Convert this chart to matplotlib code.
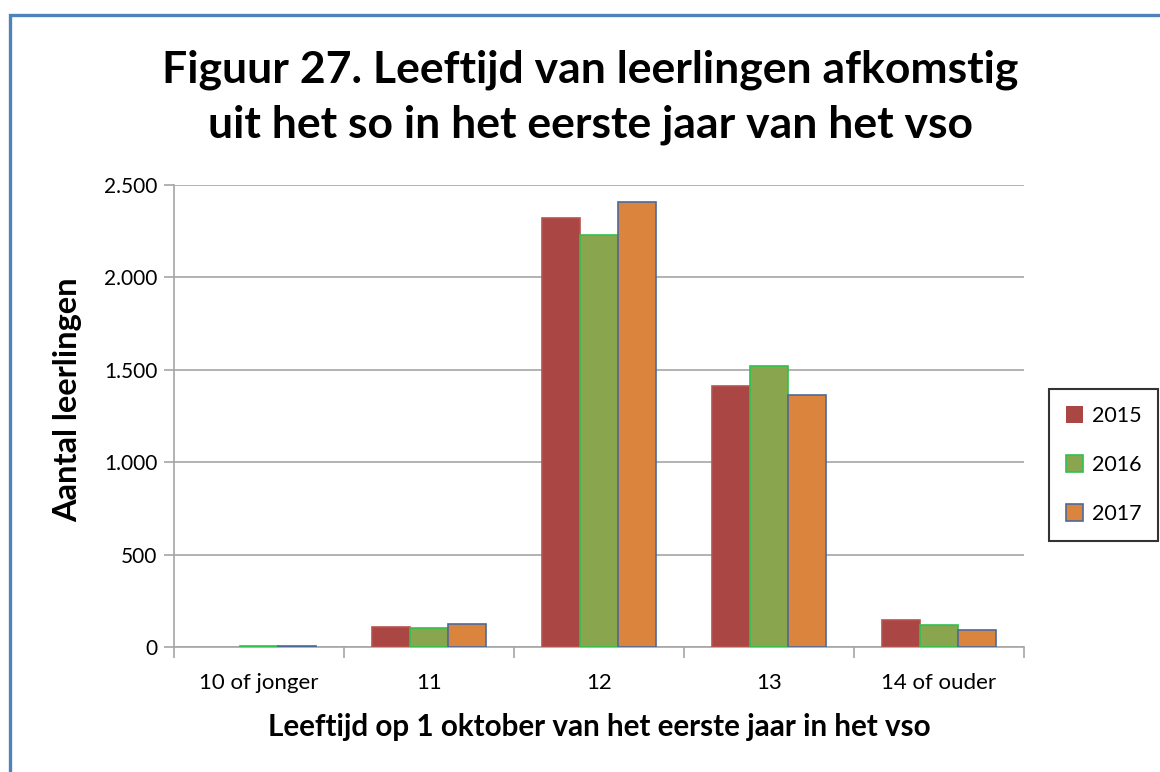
import matplotlib.pyplot as plt
from matplotlib.patches import Rectangle
import numpy as np

# data
categories = ["10 of jonger", "11", "12", "13", "14 of ouder"]
years = ["2015", "2016", "2017"]
v2015 = [0, 108, 2321, 1412, 146]
v2016 = [5, 103, 2229, 1520, 119]
v2017 = [5, 124, 2408, 1364, 92]
yticks = [0, 500, 1000, 1500, 2000, 2500]
ytick_labels = ["0", "500", "1.000", "1.500", "2.000", "2.500"]

face_colors = ["#aa4643", "#89a54e", "#db843d"]
edge_colors = ["#b85450", "#2fc24f", "#4a6a9a"]

plt.rcParams['font.family'] = ['Lato', 'DejaVu Sans']

fig = plt.figure(figsize=(11.6, 7.72), dpi=100)
W, H = 1160, 772

# blue frame around the chart
fig.patches.append(Rectangle((10 / W, -0.05), 1.2, 1 - 14.5 / H + 0.05,
                             transform=fig.transFigure, fill=False,
                             edgecolor="#4f81bd", linewidth=2.4))

ax = fig.add_axes([174 / W, 1 - 647 / H, (1024 - 174) / W, (647 - 185) / H])

x = np.arange(len(categories))
bw = 0.223
for i, (vals, fc, ec, lab) in enumerate(zip([v2015, v2016, v2017], face_colors, edge_colors, years)):
    lw = [1.2 if v > 0 else 0 for v in vals]
    ax.bar(x + (i - 1) * bw, vals, width=bw, color=fc, edgecolor=ec,
           linewidth=lw, label=lab, zorder=3)

ax.set_xlim(-0.5, len(categories) - 0.5)
ax.set_ylim(0, 2500)
ax.set_yticks(yticks)
ax.set_yticklabels(ytick_labels, fontsize=15)
ax.set_xticks(x)
ax.set_xticklabels(categories, fontsize=16)
ax.set_xticks(np.arange(-0.5, len(categories)), minor=True)
ax.tick_params(axis='x', which='major', length=0, pad=19)
ax.tick_params(axis='x', which='minor', length=8, color="#a6a6a6", width=1.2)
ax.tick_params(axis='y', length=7, color="#a6a6a6", width=1.2, pad=5)

ax.grid(axis='y', color="#a6a6a6", linewidth=1.2, zorder=0)
ax.set_axisbelow(True)
for s in ["top", "right"]:
    ax.spines[s].set_visible(False)
for s in ["left", "bottom"]:
    ax.spines[s].set_color("#a6a6a6")
    ax.spines[s].set_linewidth(1.2)

ax.set_ylabel("Aantal leerlingen", fontsize=23.5, fontweight='bold', va='center')
ax.yaxis.set_label_coords(-0.125, 0.535)
ax.set_xlabel("Leeftijd op 1 oktober van het eerste jaar in het vso",
              fontsize=21.3, fontweight='bold', va='center')
ax.xaxis.set_label_coords(0.5, -0.173)

fig.text(590 / W, 1 - 70 / H, "Figuur 27. Leeftijd van leerlingen afkomstig",
         ha='center', va='center', fontsize=32, fontweight='bold')
fig.text(590 / W, 1 - 125 / H, "uit het so in het eerste jaar van het vso",
         ha='center', va='center', fontsize=32, fontweight='bold')

leg = ax.legend(loc='center', bbox_to_anchor=(1103.5 / W, 1 - 465 / H),
                bbox_transform=fig.transFigure, fontsize=15.5,
                handlelength=0.8, handleheight=0.8, handletextpad=0.4,
                labelspacing=1.35, borderpad=0.8, fancybox=False,
                frameon=True)
leg.get_frame().set_edgecolor("black")
leg.get_frame().set_linewidth(1.5)

fig.savefig("out.png", dpi=100)
